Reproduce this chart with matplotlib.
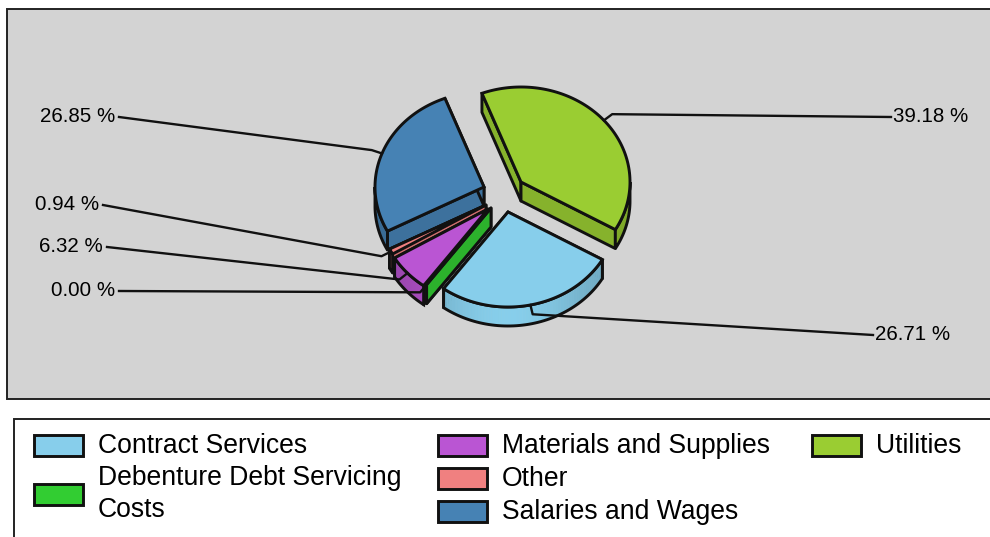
import numpy as np
from matplotlib import pyplot as plt
from matplotlib.patches import Polygon, Rectangle
from matplotlib.colors import to_rgb

categories = ['Utilities', 'Contract Services', 'Debenture Debt Servicing\nCosts',
              'Materials and Supplies', 'Other', 'Salaries and Wages']
shares = [39.18, 26.71, 0.00, 6.32, 0.94, 26.85]
colors = ['#9ACD32', '#87CEEB', '#32CD32', '#BA55D3', '#F08080', '#4682B4']

# pie layout, pixels
center = (500, 196)
rx, ry = 109, 95
depth = 19
start_angle = 111
# explode offset of each slice
explode_x = [21, 8, -9, -12, -14, -16]
explode_y = [-14, 16, 12, 13, 9, -9]
draw_order = [0, 5, 4, 3, 2, 1]

# where the labels sit
label_pos = [(893, 116, 'left'), (875, 334, 'left'), (115, 290, 'right'),
             (103, 246, 'right'), (99, 204, 'right'), (115, 116, 'right')]

# legend layout: swatch left edge, swatch centre y, text y
legend_rows = [(812, 445, 446), (34, 445, 446), (34, 494, 494),
               (438, 445, 446), (438, 478, 479), (438, 511, 512)]

line_col = '#111111'
pie_lw = 2.1


def shade(col, f):
    return tuple(c * f for c in to_rgb(col))


def edge_pt(cx, cy, t):
    return cx + rx * np.cos(np.radians(t)), cy - ry * np.sin(np.radians(t))


def draw_slice(ax, cx, cy, t0, t1, col):
    # t0 > t1, clockwise
    ts = np.linspace(t0, t1, 100)
    px, py = edge_pt(cx, cy, ts)

    # the two cut faces
    for t in (t0, t1):
        x, y = edge_pt(cx, cy, t)
        face = [(cx, cy), (x, y), (x, y + depth), (cx, cy + depth)]
        ax.add_patch(Polygon(face, closed=True, fc=shade(col, 0.87), ec=line_col, lw=pie_lw, joinstyle='round'))

    # outer rim, only the part on the lower side
    lo = max(t1, -180) if t1 < 0 else None
    hi = min(t0, 0)
    if lo is not None and hi > lo:
        rim_t = np.linspace(hi, lo, 60)
        for a, b in zip(rim_t[:-1], rim_t[1:]):
            f = 0.82 + 0.18 * abs(np.sin(np.radians((a + b) / 2))) ** 4
            xa, ya = edge_pt(cx, cy, a)
            xb, yb = edge_pt(cx, cy, b)
            seg = [(xa, ya), (xb, yb), (xb, yb + depth), (xa, ya + depth)]
            ax.add_patch(Polygon(seg, closed=True, fc=shade(col, f), ec=shade(col, f), lw=0.5))
        rx_, ry_ = edge_pt(cx, cy, rim_t)
        outline = list(zip(rx_, ry_)) + list(zip(rx_[::-1], ry_[::-1] + depth))
        ax.add_patch(Polygon(outline, closed=True, fill=False, ec=line_col, lw=pie_lw))

    # top
    top = [(cx, cy)] + list(zip(px, py))
    ax.add_patch(Polygon(top, closed=True, fc=col, ec=line_col, lw=pie_lw, joinstyle='miter'))


def main():
    fig = plt.figure(figsize=(9.9, 5.37), dpi=100)
    ax = fig.add_axes([0, 0, 1, 1])
    ax.set_xlim(0, 990)
    ax.set_ylim(537, 0)
    ax.axis('off')
    plt.rcParams['font.family'] = ['Liberation Sans', 'DejaVu Sans']

    ax.add_patch(Rectangle((7, 8.5), 1000, 390.5, fc='#D3D3D3', ec='#222222', lw=1.4))
    ax.add_patch(Rectangle((14, 418.5), 1000, 140, fc='white', ec='#222222', lw=1.4))

    total = sum(shares)
    spans = [s / total * 360 for s in shares]
    starts = start_angle - np.concatenate([[0], np.cumsum(spans)[:-1]])
    mids = starts - np.array(spans) / 2

    apex = [(center[0] + dx, center[1] + dy) for dx, dy in zip(explode_x, explode_y)]

    for i in draw_order:
        cx, cy = apex[i]
        draw_slice(ax, cx, cy, starts[i], starts[i] - spans[i], colors[i])

    for i in range(len(shares)):
        cx, cy = apex[i]
        t = np.radians(mids[i])
        ax_, ay_ = cx + rx * np.cos(t), cy - ry * np.sin(t)
        ex, ey = cx + 1.1 * rx * np.cos(t), cy - 1.1 * ry * np.sin(t)
        lx, ly, ha = label_pos[i]
        end = lx - 2 if ha == 'left' else lx + 4
        ax.plot([ax_, ex, end], [ay_, ey, ly + 1], color=line_col, lw=1.7, solid_joinstyle='round')
        ax.text(lx, ly, '%.2f %%' % shares[i], ha=ha, va='center', fontsize=14.8, color='black')

    for name, col, (sx, sy, ty) in zip(categories, colors, legend_rows):
        ax.add_patch(Rectangle((sx, sy - 10.5), 49, 21, fc=col, ec=line_col, lw=2.1))
        ax.text(sx + 63.5, ty, name, ha='left', va='center', fontsize=19.1, color='black', linespacing=1.33)

    fig.savefig('out.png', dpi=100)


if __name__ == '__main__':
    main()
